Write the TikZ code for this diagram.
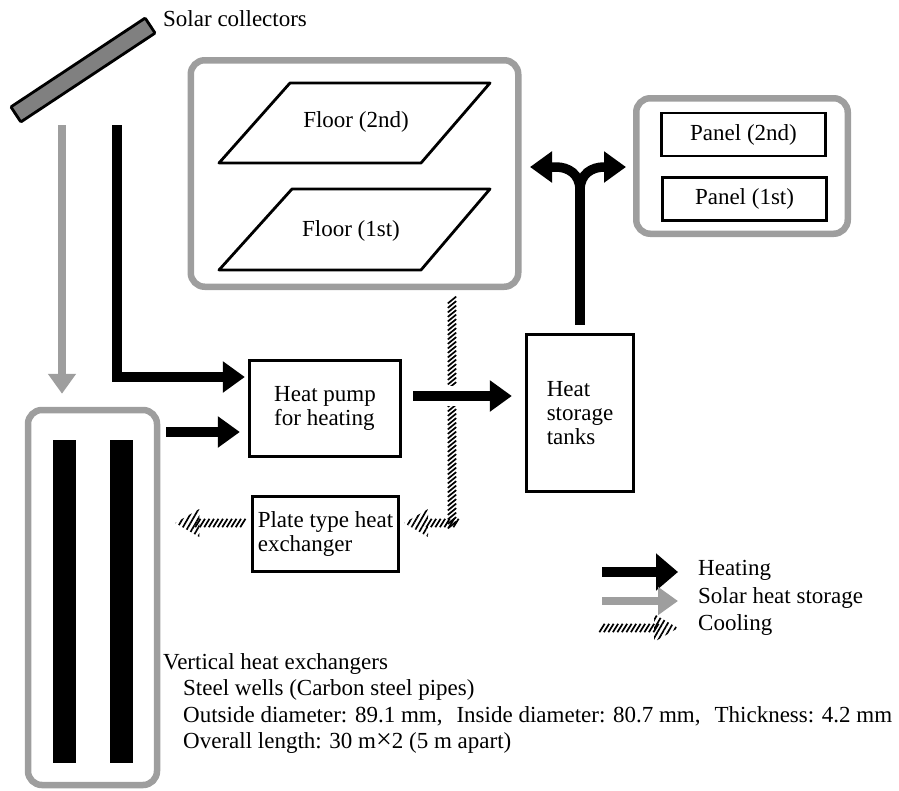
\documentclass[tikz,border=0pt]{standalone}
\usepackage{fontspec}
\setmainfont{Liberation Serif}
\usetikzlibrary{arrows.meta,calc,decorations.markings,patterns.meta}
\begin{document}
\begin{tikzpicture}[x=1pt,y=-1pt,
  every node/.style={font=\fontsize{23}{24}\selectfont},
  box/.style={draw, line width=2.8, inner sep=0},
  gbox/.style={draw=black!38, line width=6.5, rounded corners=14, inner sep=0},
  heat/.style={line width=9.5, -{Triangle[length=22pt,width=30pt]}},
  heatline/.style={line width=9.5},
  solar/.style={draw=black!38, line width=8, -{Triangle[length=20pt,width=27pt]}},
  hatch/.style={decoration={markings,
      mark=between positions 0 and -22pt step 4.5pt with {\draw[line width=1.7] (-2.6,4.2) -- (2.6,-4.2);},
      mark=at position 1 with {\fill[pattern={Lines[angle=60,distance=4.5pt,line width=1.7pt]}] (0,0) -- (-24,14) -- (-24,-14) -- cycle;}},
    decorate},
  hatchv/.style={decoration={markings,
      mark=between positions 0 and 1 step 4.5pt with {\draw[line width=1.7] (-3.4,-4.2) -- (3.4,4.2);}},
    decorate},
  txt/.style={inner sep=0, anchor=base west},
  floorline/.style={line width=2.8, line join=round}
]
\useasboundingbox (0,0) rectangle (899,790);

% solar collector
\node[draw, line width=2.8, fill=black!50, minimum width=161, minimum height=18, inner sep=0, rotate=33.5, rounded corners=1] (sc) at (83,70) {};
\node[txt] (lsc) at (163,26) {Solar collectors};

% floors
\node[gbox, minimum width=327.5, minimum height=226.5] (floors) at (354.5,173.5) {};
\draw[floorline] (219,163) -- (290,83) -- (490,83) -- (421,163) -- cycle;
\draw[floorline] (219,270) -- (292,189) -- (490,189) -- (421,270) -- cycle;
\node[inner sep=0, anchor=base] (f2) at (356,127) {Floor (2nd)};
\node[inner sep=0, anchor=base] (f1) at (351,236) {Floor (1st)};

% panels
\node[gbox, minimum width=211.5, minimum height=135.5] (panels) at (742,166) {};
\node[box, minimum width=164.5, minimum height=43] (p2) at (743.5,134.5) {Panel (2nd)};
\node[box, minimum width=164.5, minimum height=43.5] (p1) at (744.5,199) {Panel (1st)};

% main boxes
\node[box, minimum width=151.5, minimum height=96.5, align=left] (hp) at (325,408.5) {Heat pump\\for heating};
\node[box, minimum width=107.5, minimum height=157.5, align=left] (tanks) at (580,413) {Heat\\storage\\tanks};
\node[box, minimum width=146.5, minimum height=75.5, align=left] (phe) at (325.5,534) {Plate type heat\\exchanger};

% vertical heat exchangers
\node[gbox, minimum width=129, minimum height=375] (vhe) at (92.5,597.5) {};
\node[fill, inner sep=0, minimum width=23, minimum height=323] (bar1) at (64.5,601.5) {};
\node[fill, inner sep=0, minimum width=23, minimum height=323] (bar2) at (121.5,601.5) {};

% solar heat storage arrow
\coordinate (sgs) at (62,125);
\draw[solar, shorten >=13] (sgs) -- (sgs |- vhe.north);

% heating arrows
\coordinate (hs) at (117,125);
\coordinate (hpa) at ($(hp.west)+(0,-31.5)$);
\draw[heat, shorten >=3] (hs) |- (hpa);
\coordinate (hpb) at ($(hp.west)+(0,23.5)$);
\draw[heat, shorten <=6, shorten >=8] (vhe.east |- hpb) -- (hpb);

% cooling
\coordinate (c0) at ($(floors.south)+(97.5,10)$);
\coordinate (ctip) at ($(phe.east)+(4,-11)$);
\coordinate (ccorner) at (c0 |- ctip);
\path[hatchv] (c0) -- ($(ccorner)+(0,4)$);
\path[hatch] ($(ccorner)+(4,0)$) -- (ctip);
\coordinate (cs2) at ($(phe.west)+(-8,-11)$);
\path[hatch] (cs2) -- ($(vhe.east |- cs2)+(15,0)$);

% heat pump -> tanks
\coordinate (hpc) at ($(hp.east)+(0,-12.5)$);
\fill[white] (443,386) rectangle (461,406);
\draw[heat, shorten <=11, shorten >=13] (hpc) -- (hpc -| tanks.west);

% tanks -> floors / panels
\coordinate (fork) at ($(tanks.north)+(0,-143)$);
\coordinate (lbend) at (556,167);
\coordinate (ltip) at (530,167);
\coordinate (rbend) at (604,167);
\coordinate (rtip) at (626,167);
\draw[heatline, shorten <=8] (tanks.north) -- (fork);
\draw[heat] (fork) .. controls ($(fork)+(0,-16)$) and ($(lbend)+(12,0)$) .. (lbend) -- (ltip);
\draw[heat] (fork) .. controls ($(fork)+(0,-16)$) and ($(rbend)+(-12,0)$) .. (rbend) -- (rtip);

% legend
\node[txt] (lh) at (698,575) {Heating};
\node[txt] (ls) at (698,603) {Solar heat storage};
\node[txt] (lc) at (698,630) {Cooling};
\draw[line width=9.5, -{Triangle[length=22pt,width=36pt]}] ($(lh.base west)+(-96,-3)$) -- ($(lh.base west)+(-20,-3)$);
\draw[solar] ($(ls.base west)+(-96,-2)$) -- ($(ls.base west)+(-20,-2)$);
\path[hatch] ($(lc.base west)+(-96,-2)$) -- ($(lc.base west)+(-20,-2)$);

% description
\node[txt] (t1) at (163,669) {Vertical heat exchangers};
\node[txt] (t2) at (183,695) {Steel wells (Carbon steel pipes)};
\node[txt] (t3) at (183,722) {Outside diameter: 89.1 mm,\hspace{14pt}Inside diameter: 80.7 mm,\hspace{14pt}Thickness: 4.2 mm};
\node[txt] (t4) at (183,748) {Overall length: 30 m{\fontsize{28}{28}\selectfont ×}2 (5 m apart)};
\end{tikzpicture}
\end{document}
